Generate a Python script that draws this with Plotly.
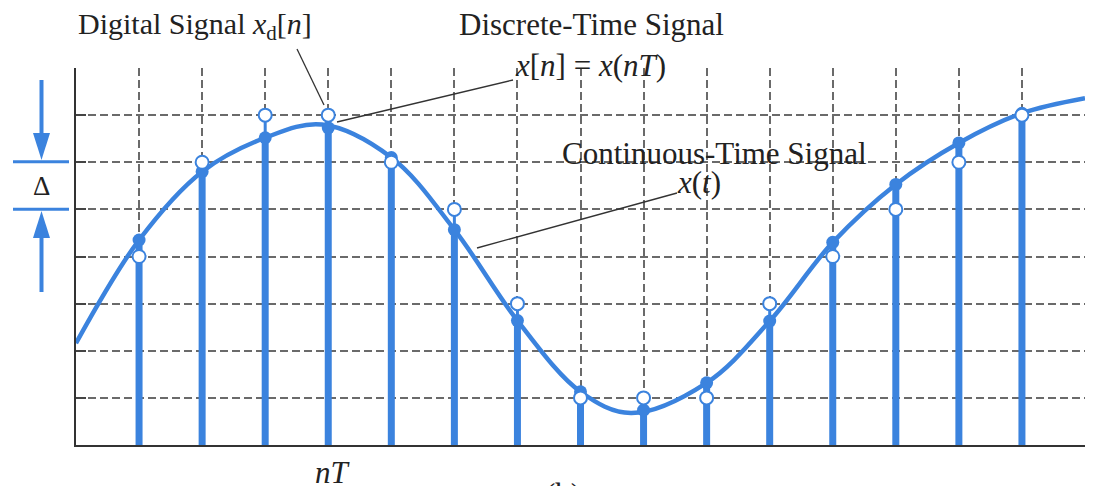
import plotly.graph_objects as go

# ---------------- data ----------------
# continuous-time signal x(t)
curve_t = [0, 1, 2, 3, 3.9, 5, 6, 7, 8, 8.8, 10, 11, 12, 13, 14, 15, 16]
curve_x = [2.16, 4.35, 5.8, 6.52, 6.8, 6.1, 4.57, 2.64, 1.13, 0.68, 1.32, 2.63, 4.3, 5.53, 6.41, 7.04, 7.36]

# sample indices n (t = nT)
n_vals = [1, 2, 3, 4, 5, 6, 7, 8, 9, 10, 11, 12, 13, 14, 15]
# discrete-time samples x[n] = x(nT)  (filled dots)
x_samples = [4.35, 5.8, 6.52, 6.73, 6.1, 4.57, 2.64, 1.13, 0.74, 1.32, 2.63, 4.3, 5.53, 6.41, 7.04]
# quantized digital signal x_d[n]  (open circles)
x_digital = [4, 6, 7, 7, 6, 5, 3, 1, 1, 1, 3, 4, 5, 6, 7]

grid_x = list(range(1, 16))
grid_y = list(range(1, 8))

BLUE = "#3b83de"
TXT = "#222222"
FONT = "Liberation Serif"

# the page body has an 8px margin, so the figure is drawn 8px in from the top-left
OFF = 8
W, H = 1103 - OFF, 486 - OFF
# plot area in page pixels: x 76..1085, y 68..445
PL, PR, PT, PB = 76, 1085, 68, 445
L, T = PL - OFF, PT - OFF
R, B = W - (PR - OFF), H - (PB - OFF)


def pxx(x):
    """page x pixel -> paper coordinate"""
    return (x - PL) / (PR - PL)


def pxy(y):
    """page y pixel -> paper coordinate"""
    return (PB - y) / (PB - PT)


fig = go.Figure()

# continuous curve
fig.add_trace(go.Scatter(x=curve_t, y=curve_x, mode="lines",
                         line=dict(color=BLUE, width=4.5, shape="spline", smoothing=1.0),
                         hoverinfo="skip", showlegend=False))

# thick stems 0 -> x[n]
sx, sy = [], []
for n, v in zip(n_vals, x_samples):
    sx += [n, n, None]
    sy += [0, v, None]
fig.add_trace(go.Scatter(x=sx, y=sy, mode="lines", line=dict(color=BLUE, width=7),
                         hoverinfo="skip", showlegend=False))

# thin connectors x[n] -> x_d[n]
cx, cy = [], []
for n, v, d in zip(n_vals, x_samples, x_digital):
    cx += [n, n, None]
    cy += [v, d, None]
fig.add_trace(go.Scatter(x=cx, y=cy, mode="lines", line=dict(color=BLUE, width=3),
                         hoverinfo="skip", showlegend=False))

# filled dots x[n]
fig.add_trace(go.Scatter(x=n_vals, y=x_samples, mode="markers",
                         marker=dict(color=BLUE, size=13, line=dict(width=0)),
                         hoverinfo="skip", showlegend=False))

# open circles x_d[n]
fig.add_trace(go.Scatter(x=n_vals, y=x_digital, mode="markers",
                         marker=dict(color="white", size=13, line=dict(color=BLUE, width=2)),
                         hoverinfo="skip", showlegend=False))

shapes = []
# Delta marker on the left
for yy in (161.7, 209.3):
    shapes.append(dict(type="line", xref="paper", yref="paper",
                       x0=pxx(13), x1=pxx(69), y0=pxy(yy), y1=pxy(yy),
                       line=dict(color=BLUE, width=3)))
shapes.append(dict(type="line", xref="paper", yref="paper",
                   x0=pxx(41.5), x1=pxx(41.5), y0=pxy(80), y1=pxy(140),
                   line=dict(color=BLUE, width=4)))
shapes.append(dict(type="path", xref="paper", yref="paper",
                   path=f"M {pxx(33)} {pxy(133)} L {pxx(50)} {pxy(133)} L {pxx(41.5)} {pxy(160)} Z",
                   fillcolor=BLUE, line=dict(width=0)))
shapes.append(dict(type="line", xref="paper", yref="paper",
                   x0=pxx(41.5), x1=pxx(41.5), y0=pxy(230), y1=pxy(292),
                   line=dict(color=BLUE, width=4)))
shapes.append(dict(type="path", xref="paper", yref="paper",
                   path=f"M {pxx(33)} {pxy(238)} L {pxx(50)} {pxy(238)} L {pxx(41.5)} {pxy(211)} Z",
                   fillcolor=BLUE, line=dict(width=0)))

# leader lines
for (x0, y0, x1, y1) in [(297, 49, 324, 105), (337, 122, 513, 80), (477, 248, 677, 193)]:
    shapes.append(dict(type="line", xref="paper", yref="paper",
                       x0=pxx(x0), y0=pxy(y0), x1=pxx(x1), y1=pxy(y1),
                       line=dict(color="#333333", width=1.3)))

annotations = []


def label(text, x, y, size=31, yanchor="middle"):
    annotations.append(dict(text=text, xref="paper", yref="paper",
                            x=pxx(x), y=pxy(y), xanchor="center", yanchor=yanchor,
                            showarrow=False, font=dict(family=FONT, size=size, color=TXT)))


label("Digital Signal <i>x</i><sub>d</sub>[<i>n</i>]", 195, 26, size=30)
label("Discrete-Time Signal", 591, 24)
label("<i>x</i>[<i>n</i>] = <i>x</i>(<i>nT</i>)", 590, 66)
label("Continuous-Time Signal", 714, 153)
label("<i>x</i>(<i>t</i>)", 699, 182)
label("<i>nT</i>", 333, 472)
label("Δ", 41.5, 186, size=27)
label("(b)", 563, 475, yanchor="top")

fig.update_layout(
    width=W, height=H, autosize=False,
    margin=dict(l=L, r=R, t=T, b=B, pad=0),
    paper_bgcolor="white", plot_bgcolor="white",
    shapes=shapes, annotations=annotations,
    xaxis=dict(range=[0, 16], tickvals=grid_x, showticklabels=False, ticks="",
               showgrid=True, gridcolor="#6a6a6a", gridwidth=1.5, griddash="8px,4px",
               showline=True, linecolor="#333333", linewidth=2, zeroline=False,
               fixedrange=True),
    yaxis=dict(range=[0, 8], tickvals=grid_y, showticklabels=False, ticks="inside",
               ticklen=10, tickwidth=1.5, tickcolor="#444444",
               showgrid=True, gridcolor="#6a6a6a", gridwidth=1.5, griddash="8px,4px",
               showline=True, linecolor="#333333", linewidth=2, zeroline=False,
               fixedrange=True),
)

fig.write_html("out.html")
